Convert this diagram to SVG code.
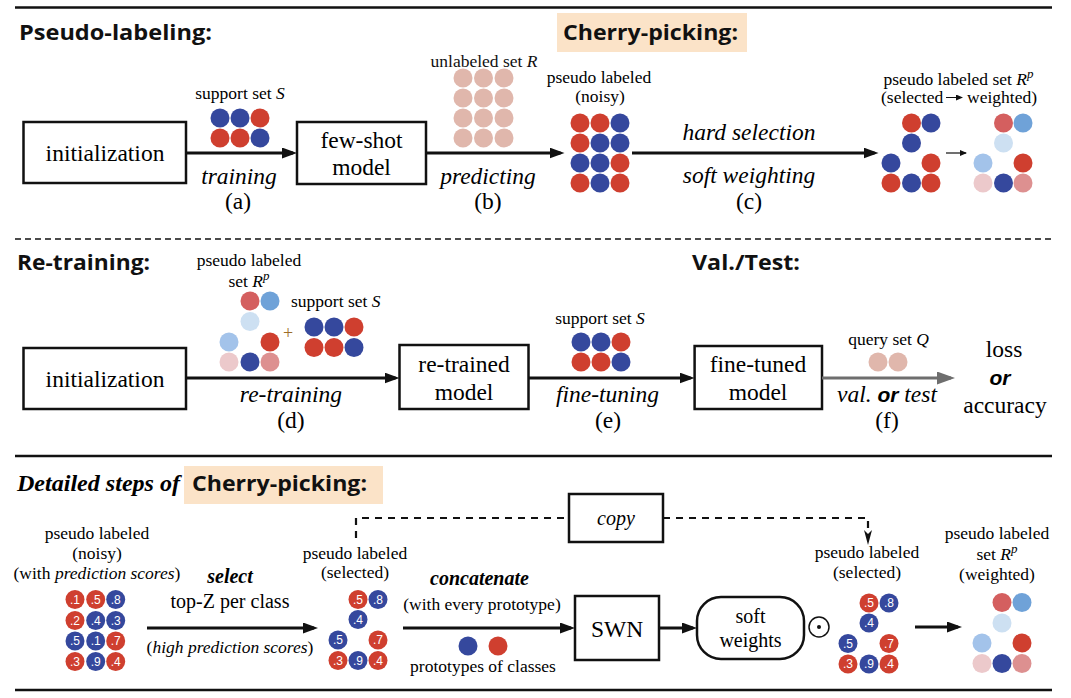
<svg xmlns="http://www.w3.org/2000/svg" width="1071" height="698" viewBox="0 0 1071 698">
<defs>
<marker id="ah" markerUnits="userSpaceOnUse" markerWidth="15" markerHeight="11" viewBox="0 0 15 11" refX="11" refY="5.5" orient="auto"><path d="M0,0L15,5.5L0,11z" fill="#111"/></marker>
<marker id="ahg" markerUnits="userSpaceOnUse" markerWidth="18" markerHeight="13" viewBox="0 0 18 13" refX="14" refY="6.5" orient="auto"><path d="M0,0L18,6.5L0,13z" fill="#6e6e6e"/></marker>
<marker id="ahd" markerUnits="userSpaceOnUse" markerWidth="15" markerHeight="8" viewBox="0 0 15 8" refX="4" refY="4" orient="auto"><path d="M0,0L15,4L0,8L4,4z" fill="#111"/></marker>
<marker id="ahs" markerUnits="userSpaceOnUse" markerWidth="7" markerHeight="6" viewBox="0 0 7 6" refX="6" refY="3" orient="auto"><path d="M0,0L7,3L0,6z" fill="#111"/></marker>
</defs>
<rect width="1071" height="698" fill="#fff"/>

<g id="rules" stroke="#111" stroke-width="2.5">
<line x1="15" y1="7.5" x2="1052" y2="7.5"/>
<line x1="15" y1="239" x2="1052" y2="239" stroke-width="1.3" stroke-dasharray="6 4"/>
<line x1="15" y1="456" x2="1052" y2="456"/>
<line x1="15" y1="690" x2="1052" y2="690"/>
</g>

<!-- Section 1 -->
<g id="title-pseudo-labeling"><text font-family="Open Sans, Liberation Sans, sans-serif" font-weight="700" font-size="22" fill="#111" x="19" y="40" textLength="193" lengthAdjust="spacingAndGlyphs">Pseudo-labeling:</text></g>
<g id="title-cherry-picking-1"><rect fill="#fbe3c8" x="557" y="13" width="190" height="39"/><text font-family="Open Sans, Liberation Sans, sans-serif" font-weight="700" font-size="22" fill="#111" x="563" y="40" textLength="175" lengthAdjust="spacingAndGlyphs">Cherry-picking:</text></g>

<g id="init1"><rect fill="#fff" stroke="#111" stroke-width="2.5" x="23.5" y="122" width="162.5" height="61"/><text font-family="Liberation Serif, serif" font-size="23.5" text-anchor="middle" x="105" y="161">initialization</text></g>
<g id="fewshot"><rect fill="#fff" stroke="#111" stroke-width="2.5" x="297" y="122" width="129" height="62"/><text font-family="Liberation Serif, serif" font-size="23.5" text-anchor="middle" x="361.5" y="148">few-shot</text><text font-family="Liberation Serif, serif" font-size="23.5" text-anchor="middle" x="361.5" y="175">model</text></g>

<g id="support1">
<text font-family="Liberation Serif, serif" font-size="17.5" text-anchor="middle" x="240" y="99">support set <tspan font-style="italic">S</tspan></text>
<circle fill="#35489d" cx="220" cy="118" r="9.5"/><circle fill="#35489d" cx="240" cy="118" r="9.5"/><circle fill="#cf3f2f" cx="260" cy="118" r="9.5"/>
<circle fill="#cf3f2f" cx="220" cy="138" r="9.5"/><circle fill="#cf3f2f" cx="240" cy="138" r="9.5"/><circle fill="#35489d" cx="260" cy="138" r="9.5"/>
</g>
<g id="label-a"><text font-family="Liberation Serif, serif" font-size="23.5" font-style="italic" text-anchor="middle" x="239" y="184">training</text><text font-family="Liberation Serif, serif" font-size="23.5" text-anchor="middle" x="238" y="209">(a)</text></g>

<g id="unlabeled" fill="#e0b7ac">
<text font-family="Liberation Serif, serif" font-size="17.5" fill="#111" text-anchor="middle" x="484" y="67">unlabeled set <tspan font-style="italic">R</tspan></text>
<circle cx="463" cy="78" r="9.5"/><circle cx="483.5" cy="78" r="9.5"/><circle cx="504" cy="78" r="9.5"/>
<circle cx="463" cy="98" r="9.5"/><circle cx="483.5" cy="98" r="9.5"/><circle cx="504" cy="98" r="9.5"/>
<circle cx="463" cy="118" r="9.5"/><circle cx="483.5" cy="118" r="9.5"/><circle cx="504" cy="118" r="9.5"/>
<circle cx="463" cy="138" r="9.5"/><circle cx="483.5" cy="138" r="9.5"/><circle cx="504" cy="138" r="9.5"/>
</g>
<g id="label-b"><text font-family="Liberation Serif, serif" font-size="23.5" font-style="italic" text-anchor="middle" x="488" y="184">predicting</text><text font-family="Liberation Serif, serif" font-size="23.5" text-anchor="middle" x="488" y="209">(b)</text></g>

<g id="noisy1">
<text font-family="Liberation Serif, serif" font-size="17.5" text-anchor="middle" x="599" y="83">pseudo labeled</text>
<text font-family="Liberation Serif, serif" font-size="17.5" text-anchor="middle" x="600" y="102">(noisy)</text>
<circle fill="#cf3f2f" cx="580" cy="123" r="9.5"/><circle fill="#cf3f2f" cx="600" cy="123" r="9.5"/><circle fill="#35489d" cx="620" cy="123" r="9.5"/>
<circle fill="#cf3f2f" cx="580" cy="143" r="9.5"/><circle fill="#35489d" cx="600" cy="143" r="9.5"/><circle fill="#35489d" cx="620" cy="143" r="9.5"/>
<circle fill="#35489d" cx="580" cy="163" r="9.5"/><circle fill="#35489d" cx="600" cy="163" r="9.5"/><circle fill="#cf3f2f" cx="620" cy="163" r="9.5"/>
<circle fill="#cf3f2f" cx="580" cy="183" r="9.5"/><circle fill="#35489d" cx="600" cy="183" r="9.5"/><circle fill="#cf3f2f" cx="620" cy="183" r="9.5"/>
</g>
<g id="label-c"><text font-family="Liberation Serif, serif" font-size="23.5" font-style="italic" text-anchor="middle" x="749" y="140">hard selection</text><text font-family="Liberation Serif, serif" font-size="23.5" font-style="italic" text-anchor="middle" x="749" y="183">soft weighting</text><text font-family="Liberation Serif, serif" font-size="23.5" text-anchor="middle" x="749" y="209">(c)</text></g>

<g id="rp1">
<text font-family="Liberation Serif, serif" font-size="17.5" text-anchor="middle" x="958.5" y="85">pseudo labeled set <tspan font-style="italic">R</tspan><tspan font-style="italic" font-size="13" dy="-7">p</tspan></text>
<text font-family="Liberation Serif, serif" font-size="17.5" x="881" y="103">(selected</text>
<line x1="946" y1="97.5" x2="962" y2="97.5" stroke="#111" stroke-width="1" marker-end="url(#ahs)"/>
<text font-family="Liberation Serif, serif" font-size="17.5" text-anchor="end" x="1037" y="103">weighted)</text>
<circle fill="#cf3f2f" cx="911.5" cy="123" r="9.5"/><circle fill="#35489d" cx="931" cy="123" r="9.5"/>
<circle fill="#35489d" cx="911.5" cy="143" r="9.5"/>
<circle fill="#35489d" cx="891" cy="163" r="9.5"/><circle fill="#cf3f2f" cx="931" cy="163" r="9.5"/>
<circle fill="#cf3f2f" cx="891" cy="183" r="9.5"/><circle fill="#35489d" cx="911.5" cy="183" r="9.5"/><circle fill="#cf3f2f" cx="931" cy="183" r="9.5"/>
<line x1="946" y1="153" x2="966" y2="153" stroke="#111" stroke-width="1.2" marker-end="url(#ahs)"/>
<circle fill="#d45f5f" cx="1003.5" cy="123" r="9.5"/><circle fill="#6fa2d8" cx="1023" cy="123" r="9.5"/>
<circle fill="#cde0f2" cx="1003.5" cy="143" r="9.5"/>
<circle fill="#a3c3ea" cx="983" cy="163" r="9.5"/><circle fill="#cf3f2f" cx="1023" cy="163" r="9.5"/>
<circle fill="#ecc9cb" cx="983" cy="183" r="9.5"/><circle fill="#35489d" cx="1003.5" cy="183" r="9.5"/><circle fill="#dd9090" cx="1023" cy="183" r="9.5"/>
</g>

<!-- Section 2 -->
<g id="title-retraining"><text font-family="Open Sans, Liberation Sans, sans-serif" font-weight="700" font-size="22" fill="#111" x="17" y="270" textLength="133" lengthAdjust="spacingAndGlyphs">Re-training:</text></g>
<g id="title-valtest"><text font-family="Open Sans, Liberation Sans, sans-serif" font-weight="700" font-size="22" fill="#111" x="692" y="270" textLength="108" lengthAdjust="spacingAndGlyphs">Val./Test:</text></g>

<g id="rp2">
<text font-family="Liberation Serif, serif" font-size="17.5" text-anchor="middle" x="249" y="266">pseudo labeled</text>
<text font-family="Liberation Serif, serif" font-size="17.5" text-anchor="middle" x="249" y="287">set <tspan font-style="italic">R</tspan><tspan font-style="italic" font-size="13" dy="-7">p</tspan></text>
<circle fill="#d45f5f" cx="250" cy="301" r="9.5"/><circle fill="#6fa2d8" cx="270" cy="301" r="9.5"/>
<circle fill="#cde0f2" cx="250" cy="321.5" r="9.5"/>
<circle fill="#a3c3ea" cx="229" cy="342" r="9.5"/><circle fill="#cf3f2f" cx="270" cy="342" r="9.5"/>
<circle fill="#ecc9cb" cx="229" cy="362" r="9.5"/><circle fill="#35489d" cx="250" cy="362" r="9.5"/><circle fill="#dd9090" cx="270" cy="362" r="9.5"/>
<text font-family="Liberation Serif, serif" font-size="18" fill="#9c6c28" text-anchor="middle" x="288" y="339">+</text>
</g>
<g id="support2">
<text font-family="Liberation Serif, serif" font-size="17.5" x="291" y="307">support set <tspan font-style="italic">S</tspan></text>
<circle fill="#35489d" cx="314" cy="327" r="9.5"/><circle fill="#35489d" cx="334" cy="327" r="9.5"/><circle fill="#cf3f2f" cx="354" cy="327" r="9.5"/>
<circle fill="#cf3f2f" cx="314" cy="347.5" r="9.5"/><circle fill="#cf3f2f" cx="334" cy="347.5" r="9.5"/><circle fill="#35489d" cx="354" cy="347.5" r="9.5"/>
</g>
<g id="init2"><rect fill="#fff" stroke="#111" stroke-width="2.5" x="23.5" y="348" width="162.5" height="61"/><text font-family="Liberation Serif, serif" font-size="23.5" text-anchor="middle" x="105" y="387">initialization</text></g>
<g id="label-d"><text font-family="Liberation Serif, serif" font-size="23.5" font-style="italic" text-anchor="middle" x="291" y="402">re-training</text><text font-family="Liberation Serif, serif" font-size="23.5" text-anchor="middle" x="291" y="428">(d)</text></g>
<g id="retrained"><rect fill="#fff" stroke="#111" stroke-width="2.5" x="399.5" y="345" width="129" height="64"/><text font-family="Liberation Serif, serif" font-size="23.5" text-anchor="middle" x="464" y="372">re-trained</text><text font-family="Liberation Serif, serif" font-size="23.5" text-anchor="middle" x="464" y="400">model</text></g>

<g id="support3">
<text font-family="Liberation Serif, serif" font-size="17.5" text-anchor="middle" x="600" y="324">support set <tspan font-style="italic">S</tspan></text>
<circle fill="#35489d" cx="581" cy="342" r="9.5"/><circle fill="#35489d" cx="601" cy="342" r="9.5"/><circle fill="#cf3f2f" cx="621" cy="342" r="9.5"/>
<circle fill="#cf3f2f" cx="581" cy="362" r="9.5"/><circle fill="#cf3f2f" cx="601" cy="362" r="9.5"/><circle fill="#35489d" cx="621" cy="362" r="9.5"/>
</g>
<g id="label-e"><text font-family="Liberation Serif, serif" font-size="23.5" font-style="italic" text-anchor="middle" x="607.5" y="402">fine-tuning</text><text font-family="Liberation Serif, serif" font-size="23.5" text-anchor="middle" x="608" y="428">(e)</text></g>
<g id="finetuned"><rect fill="#fff" stroke="#111" stroke-width="2.5" x="694.6" y="346" width="127.4" height="63"/><text font-family="Liberation Serif, serif" font-size="23.5" text-anchor="middle" x="758" y="372">fine-tuned</text><text font-family="Liberation Serif, serif" font-size="23.5" text-anchor="middle" x="758" y="400">model</text></g>

<g id="query">
<text font-family="Liberation Serif, serif" font-size="17.5" text-anchor="middle" x="888.5" y="345">query set <tspan font-style="italic">Q</tspan></text>
<circle fill="#e0b7ac" cx="878" cy="362" r="9.5"/><circle fill="#e0b7ac" cx="898" cy="362" r="9.5"/>
</g>
<g id="label-f"><text font-family="Liberation Serif, serif" font-size="23.5" text-anchor="middle" x="887" y="402"><tspan font-style="italic">val. </tspan><tspan font-family="Liberation Sans, Arial, sans-serif" font-style="italic" font-weight="700" font-size="21">or</tspan><tspan font-style="italic"> test</tspan></text><text font-family="Liberation Serif, serif" font-size="23.5" text-anchor="middle" x="887" y="428">(f)</text></g>
<g id="result"><text font-family="Liberation Serif, serif" font-size="23.5" text-anchor="middle" x="1004" y="357">loss</text><text font-family="Liberation Sans, Arial, sans-serif" font-style="italic" font-weight="700" font-size="21" text-anchor="middle" x="1000" y="385">or</text><text font-family="Liberation Serif, serif" font-size="23.5" text-anchor="middle" x="1005" y="413">accuracy</text></g>

<!-- Section 3 -->
<g id="title-detailed"><text font-family="Liberation Serif, serif" font-style="italic" font-weight="700" font-size="23" x="17" y="491" textLength="163" lengthAdjust="spacingAndGlyphs">Detailed steps of</text></g>
<g id="title-cherry-picking-2"><rect fill="#fbe3c8" x="184" y="466" width="199" height="38"/><text font-family="Open Sans, Liberation Sans, sans-serif" font-weight="700" font-size="22" fill="#111" x="192" y="491" textLength="175" lengthAdjust="spacingAndGlyphs">Cherry-picking:</text></g>

<g id="noisy2">
<text font-family="Liberation Serif, serif" font-size="17.5" text-anchor="middle" x="97" y="539">pseudo labeled</text>
<text font-family="Liberation Serif, serif" font-size="17.5" text-anchor="middle" x="97" y="559">(noisy)</text>
<text font-family="Liberation Serif, serif" font-size="17.5" text-anchor="middle" x="97" y="579">(with <tspan font-style="italic">prediction scores</tspan>)</text>
<circle fill="#cf3f2f" cx="75" cy="599.5" r="9.5"/><circle fill="#cf3f2f" cx="95.7" cy="599.5" r="9.5"/><circle fill="#35489d" cx="115.7" cy="599.5" r="9.5"/>
<circle fill="#cf3f2f" cx="75" cy="620.5" r="9.5"/><circle fill="#35489d" cx="95.7" cy="620.5" r="9.5"/><circle fill="#35489d" cx="115.7" cy="620.5" r="9.5"/>
<circle fill="#35489d" cx="75" cy="641" r="9.5"/><circle fill="#35489d" cx="95.7" cy="641" r="9.5"/><circle fill="#cf3f2f" cx="115.7" cy="641" r="9.5"/>
<circle fill="#cf3f2f" cx="75" cy="661.5" r="9.5"/><circle fill="#35489d" cx="95.7" cy="661.5" r="9.5"/><circle fill="#cf3f2f" cx="115.7" cy="661.5" r="9.5"/>
<text font-family="Liberation Sans, Arial, sans-serif" font-size="12" fill="#fff" text-anchor="middle" x="75" y="603.8">.1</text>
<text font-family="Liberation Sans, Arial, sans-serif" font-size="12" fill="#fff" text-anchor="middle" x="95.7" y="603.8">.5</text>
<text font-family="Liberation Sans, Arial, sans-serif" font-size="12" fill="#fff" text-anchor="middle" x="115.7" y="603.8">.8</text>
<text font-family="Liberation Sans, Arial, sans-serif" font-size="12" fill="#fff" text-anchor="middle" x="75" y="624.8">.2</text>
<text font-family="Liberation Sans, Arial, sans-serif" font-size="12" fill="#fff" text-anchor="middle" x="95.7" y="624.8">.4</text>
<text font-family="Liberation Sans, Arial, sans-serif" font-size="12" fill="#fff" text-anchor="middle" x="115.7" y="624.8">.3</text>
<text font-family="Liberation Sans, Arial, sans-serif" font-size="12" fill="#fff" text-anchor="middle" x="75" y="645.3">.5</text>
<text font-family="Liberation Sans, Arial, sans-serif" font-size="12" fill="#fff" text-anchor="middle" x="95.7" y="645.3">.1</text>
<text font-family="Liberation Sans, Arial, sans-serif" font-size="12" fill="#fff" text-anchor="middle" x="115.7" y="645.3">.7</text>
<text font-family="Liberation Sans, Arial, sans-serif" font-size="12" fill="#fff" text-anchor="middle" x="75" y="665.8">.3</text>
<text font-family="Liberation Sans, Arial, sans-serif" font-size="12" fill="#fff" text-anchor="middle" x="95.7" y="665.8">.9</text>
<text font-family="Liberation Sans, Arial, sans-serif" font-size="12" fill="#fff" text-anchor="middle" x="115.7" y="665.8">.4</text>
</g>
<g id="label-select">
<text font-family="Liberation Serif, serif" font-size="20" font-style="italic" font-weight="700" text-anchor="middle" x="230" y="583">select</text>
<text font-family="Liberation Serif, serif" font-size="20" text-anchor="middle" x="230" y="608">top-Z per class</text>
<text font-family="Liberation Serif, serif" font-size="17.5" text-anchor="middle" x="230" y="653">(<tspan font-style="italic">high prediction scores</tspan>)</text>
</g>

<g id="selected2">
<text font-family="Liberation Serif, serif" font-size="17.5" text-anchor="middle" x="355" y="559">pseudo labeled</text>
<text font-family="Liberation Serif, serif" font-size="17.5" text-anchor="middle" x="355" y="578">(selected)</text>
<circle fill="#cf3f2f" cx="358" cy="599.5" r="9.5"/><circle fill="#35489d" cx="378" cy="599.5" r="9.5"/>
<circle fill="#35489d" cx="358" cy="619.5" r="9.5"/>
<circle fill="#35489d" cx="338" cy="640" r="9.5"/><circle fill="#cf3f2f" cx="378" cy="640" r="9.5"/>
<circle fill="#cf3f2f" cx="338" cy="660.5" r="9.5"/><circle fill="#35489d" cx="358" cy="660.5" r="9.5"/><circle fill="#cf3f2f" cx="378" cy="660.5" r="9.5"/>
<text font-family="Liberation Sans, Arial, sans-serif" font-size="12" fill="#fff" text-anchor="middle" x="358" y="603.8">.5</text>
<text font-family="Liberation Sans, Arial, sans-serif" font-size="12" fill="#fff" text-anchor="middle" x="378" y="603.8">.8</text>
<text font-family="Liberation Sans, Arial, sans-serif" font-size="12" fill="#fff" text-anchor="middle" x="358" y="623.8">.4</text>
<text font-family="Liberation Sans, Arial, sans-serif" font-size="12" fill="#fff" text-anchor="middle" x="338" y="644.3">.5</text>
<text font-family="Liberation Sans, Arial, sans-serif" font-size="12" fill="#fff" text-anchor="middle" x="378" y="644.3">.7</text>
<text font-family="Liberation Sans, Arial, sans-serif" font-size="12" fill="#fff" text-anchor="middle" x="338" y="664.8">.3</text>
<text font-family="Liberation Sans, Arial, sans-serif" font-size="12" fill="#fff" text-anchor="middle" x="358" y="664.8">.9</text>
<text font-family="Liberation Sans, Arial, sans-serif" font-size="12" fill="#fff" text-anchor="middle" x="378" y="664.8">.4</text>
</g>

<g id="copy"><rect fill="#fff" stroke="#111" stroke-width="2.5" x="569" y="494" width="94" height="48"/><text font-family="Liberation Serif, serif" font-size="20" font-style="italic" text-anchor="middle" x="616" y="525">copy</text></g>

<g id="label-concat">
<text font-family="Liberation Serif, serif" font-size="20" font-style="italic" font-weight="700" text-anchor="middle" x="479.5" y="585">concatenate</text>
<text font-family="Liberation Serif, serif" font-size="17.5" text-anchor="middle" x="482" y="610">(with every prototype)</text>
</g>
<g id="prototypes">
<circle fill="#35489d" cx="468" cy="646" r="9.5"/><circle fill="#cf3f2f" cx="498" cy="646" r="9.5"/>
<text font-family="Liberation Serif, serif" font-size="17.5" text-anchor="middle" x="483" y="672">prototypes of classes</text>
</g>

<g id="swn"><rect fill="#fff" stroke="#111" stroke-width="2.5" x="575" y="596" width="84" height="64"/><text font-family="Liberation Serif, serif" font-size="23.5" text-anchor="middle" x="617" y="637">SWN</text></g>
<g id="softweights"><rect fill="#fff" stroke="#111" stroke-width="2.5" x="697" y="597" width="107" height="62" rx="24"/><text font-family="Liberation Serif, serif" font-size="20" text-anchor="middle" x="750.5" y="623">soft</text><text font-family="Liberation Serif, serif" font-size="20" text-anchor="middle" x="750.5" y="647">weights</text></g>
<g id="hadamard"><circle cx="819" cy="627" r="10" fill="none" stroke="#111" stroke-width="1.5"/><circle cx="819" cy="627" r="2" fill="#111"/></g>

<g id="selected3">
<text font-family="Liberation Serif, serif" font-size="17.5" text-anchor="middle" x="867" y="558">pseudo labeled</text>
<text font-family="Liberation Serif, serif" font-size="17.5" text-anchor="middle" x="867" y="578">(selected)</text>
<circle fill="#cf3f2f" cx="869" cy="603" r="9.5"/><circle fill="#35489d" cx="889" cy="603" r="9.5"/>
<circle fill="#35489d" cx="869" cy="623" r="9.5"/>
<circle fill="#35489d" cx="848" cy="643.5" r="9.5"/><circle fill="#cf3f2f" cx="889" cy="643.5" r="9.5"/>
<circle fill="#cf3f2f" cx="848" cy="664" r="9.5"/><circle fill="#35489d" cx="869" cy="664" r="9.5"/><circle fill="#cf3f2f" cx="889" cy="664" r="9.5"/>
<text font-family="Liberation Sans, Arial, sans-serif" font-size="12" fill="#fff" text-anchor="middle" x="869" y="607.3">.5</text>
<text font-family="Liberation Sans, Arial, sans-serif" font-size="12" fill="#fff" text-anchor="middle" x="889" y="607.3">.8</text>
<text font-family="Liberation Sans, Arial, sans-serif" font-size="12" fill="#fff" text-anchor="middle" x="869" y="627.3">.4</text>
<text font-family="Liberation Sans, Arial, sans-serif" font-size="12" fill="#fff" text-anchor="middle" x="848" y="647.8">.5</text>
<text font-family="Liberation Sans, Arial, sans-serif" font-size="12" fill="#fff" text-anchor="middle" x="889" y="647.8">.7</text>
<text font-family="Liberation Sans, Arial, sans-serif" font-size="12" fill="#fff" text-anchor="middle" x="848" y="668.3">.3</text>
<text font-family="Liberation Sans, Arial, sans-serif" font-size="12" fill="#fff" text-anchor="middle" x="869" y="668.3">.9</text>
<text font-family="Liberation Sans, Arial, sans-serif" font-size="12" fill="#fff" text-anchor="middle" x="889" y="668.3">.4</text>
</g>

<g id="rp3">
<text font-family="Liberation Serif, serif" font-size="17.5" text-anchor="middle" x="997" y="539">pseudo labeled</text>
<text font-family="Liberation Serif, serif" font-size="17.5" text-anchor="middle" x="997" y="560">set <tspan font-style="italic">R</tspan><tspan font-style="italic" font-size="13" dy="-7">p</tspan></text>
<text font-family="Liberation Serif, serif" font-size="17.5" text-anchor="middle" x="997" y="580">(weighted)</text>
<circle fill="#d45f5f" cx="1002" cy="602.5" r="9.5"/><circle fill="#6fa2d8" cx="1022" cy="602.5" r="9.5"/>
<circle fill="#cde0f2" cx="1002" cy="623" r="9.5"/>
<circle fill="#a3c3ea" cx="982" cy="643" r="9.5"/><circle fill="#cf3f2f" cx="1022" cy="643" r="9.5"/>
<circle fill="#ecc9cb" cx="982" cy="663.5" r="9.5"/><circle fill="#35489d" cx="1002" cy="663.5" r="9.5"/><circle fill="#dd9090" cx="1022" cy="663.5" r="9.5"/>
</g>

<g id="connectors" stroke="#111" stroke-width="3" fill="none">
<line x1="186" y1="153" x2="293" y2="153" marker-end="url(#ah)"/>
<line x1="426" y1="153" x2="560.5" y2="153" marker-end="url(#ah)"/>
<line x1="632" y1="153" x2="874.5" y2="153" marker-end="url(#ah)"/>
<line x1="186" y1="378" x2="395.5" y2="378" marker-end="url(#ah)"/>
<line x1="528.6" y1="378" x2="690.6" y2="378" marker-end="url(#ah)"/>
<line x1="822" y1="378" x2="951" y2="378" stroke="#6e6e6e" marker-end="url(#ahg)"/>
<line x1="147" y1="628" x2="314" y2="628" marker-end="url(#ah)"/>
<line x1="403" y1="628" x2="571" y2="628" marker-end="url(#ah)"/>
<line x1="659" y1="628" x2="693" y2="628" marker-end="url(#ah)"/>
<line x1="915" y1="627" x2="958" y2="627" marker-end="url(#ah)"/>
<path d="M356,538V518H569" stroke-width="2.2" stroke-dasharray="7 6"/>
<path d="M663,518H868V534" stroke-width="2.2" stroke-dasharray="7 6" marker-end="url(#ahd)"/>
</g>
</svg>
